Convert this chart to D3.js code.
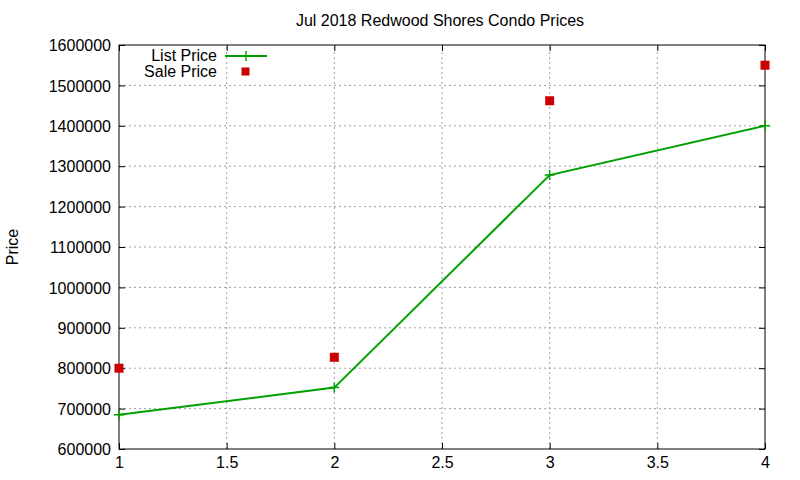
<!DOCTYPE html>
<html><head><meta charset="utf-8">
<script src="https://cdn.jsdelivr.net/npm/d3@7"></script>
<style>body{margin:0;background:#fff}svg{display:block}text{font-family:"Liberation Sans",Arial,sans-serif;font-size:16px;fill:#000}</style>
</head><body>
<script>
const xValues = [1, 2, 3, 4];
const listPrice = [685000, 752000, 1278000, 1400000];
const salePrice = [800000, 827000, 1462000, 1550000];
const xTicks = [1, 1.5, 2, 2.5, 3, 3.5, 4];
const yTicks = [600000,700000,800000,900000,1000000,1100000,1200000,1300000,1400000,1500000,1600000];

const W=800,H=480, L=119, R=765, T=45, B=449;
const FS="16px";
const svg=d3.select("body").append("svg").attr("width",W).attr("height",H);
const x=d3.scaleLinear().domain([1,4]).range([L,R]);
const y=d3.scaleLinear().domain([600000,1600000]).range([B,T]);

// grid
const g=svg.append("g");
xTicks.slice(1,-1).forEach(t=>g.append("line").attr("x1",x(t)).attr("x2",x(t)).attr("y1",B).attr("y2",T).attr("stroke","#a0a0a0").attr("stroke-dasharray","2,3"));
yTicks.slice(1,-1).forEach(t=>g.append("line").attr("x1",L).attr("x2",R).attr("y1",y(t)).attr("y2",y(t)).attr("stroke","#a0a0a0").attr("stroke-dasharray","2,3"));

// axes
const ax=svg.append("g").attr("transform",`translate(0,${B})`).call(d3.axisBottom(x).tickValues(xTicks).tickFormat(d3.format("")).tickSizeInner(-6).tickSizeOuter(0).tickPadding(8));
const ay=svg.append("g").attr("transform",`translate(${L},0)`).call(d3.axisLeft(y).tickValues(yTicks).tickFormat(d3.format("d")).tickSizeInner(-6).tickSizeOuter(0).tickPadding(8));
const axT=svg.append("g").attr("transform",`translate(0,${T})`).call(d3.axisTop(x).tickValues(xTicks).tickFormat("").tickSizeInner(-6).tickSizeOuter(0));
const ayR=svg.append("g").attr("transform",`translate(${R},0)`).call(d3.axisRight(y).tickValues(yTicks).tickFormat("").tickSizeInner(-6).tickSizeOuter(0));
[ax,ay,axT,ayR].forEach(a=>{a.selectAll("path").remove();a.selectAll("line").attr("stroke","#000");a.selectAll("text").style("font-size",FS).style("font-family","'Liberation Sans',Arial,sans-serif").attr("fill","#000");});
ay.selectAll("text").attr("dy","0.35em");
svg.append("rect").attr("x",L).attr("y",T).attr("width",R-L).attr("height",B-T).attr("fill","none").attr("stroke","#000").attr("stroke-width",1);

// list price line
const pts=xValues.map((v,i)=>[x(v),y(listPrice[i])]);
svg.append("path").attr("d",d3.line()(pts)).attr("fill","none").attr("stroke","#00a000").attr("stroke-width",2);
pts.forEach(p=>{svg.append("path").attr("d",`M${p[0]-5},${p[1]}H${p[0]+5}M${p[0]},${p[1]-5}V${p[1]+5}`).attr("stroke","#00a000").attr("stroke-width",1.5);});
// sale points
xValues.forEach((v,i)=>svg.append("rect").attr("x",x(v)-4.5).attr("y",y(salePrice[i])-4.5).attr("width",9).attr("height",9).attr("fill","#cc0000"));

// legend
svg.append("text").attr("x",217).attr("y",55.5).attr("dy","0.35em").attr("text-anchor","end").style("font-size",FS).text("List Price");
svg.append("line").attr("x1",225).attr("x2",267).attr("y1",56).attr("y2",56).attr("stroke","#00a000").attr("stroke-width",2);
svg.append("path").attr("d",`M241,56H251M246,51V61`).attr("stroke","#00a000").attr("stroke-width",1.5);
svg.append("text").attr("x",217).attr("y",71.5).attr("dy","0.35em").attr("text-anchor","end").style("font-size",FS).text("Sale Price");
svg.append("rect").attr("x",241.5).attr("y",67.5).attr("width",8).attr("height",8).attr("fill","#cc0000");

// title & label
svg.append("text").attr("x",440).attr("y",20).attr("dy","0.35em").attr("text-anchor","middle").style("font-size",FS).text("Jul 2018 Redwood Shores Condo Prices");
svg.append("text").attr("transform","translate(12,247) rotate(-90)").attr("dy","0.35em").attr("text-anchor","middle").style("font-size",FS).text("Price");
</script>
</body></html>
